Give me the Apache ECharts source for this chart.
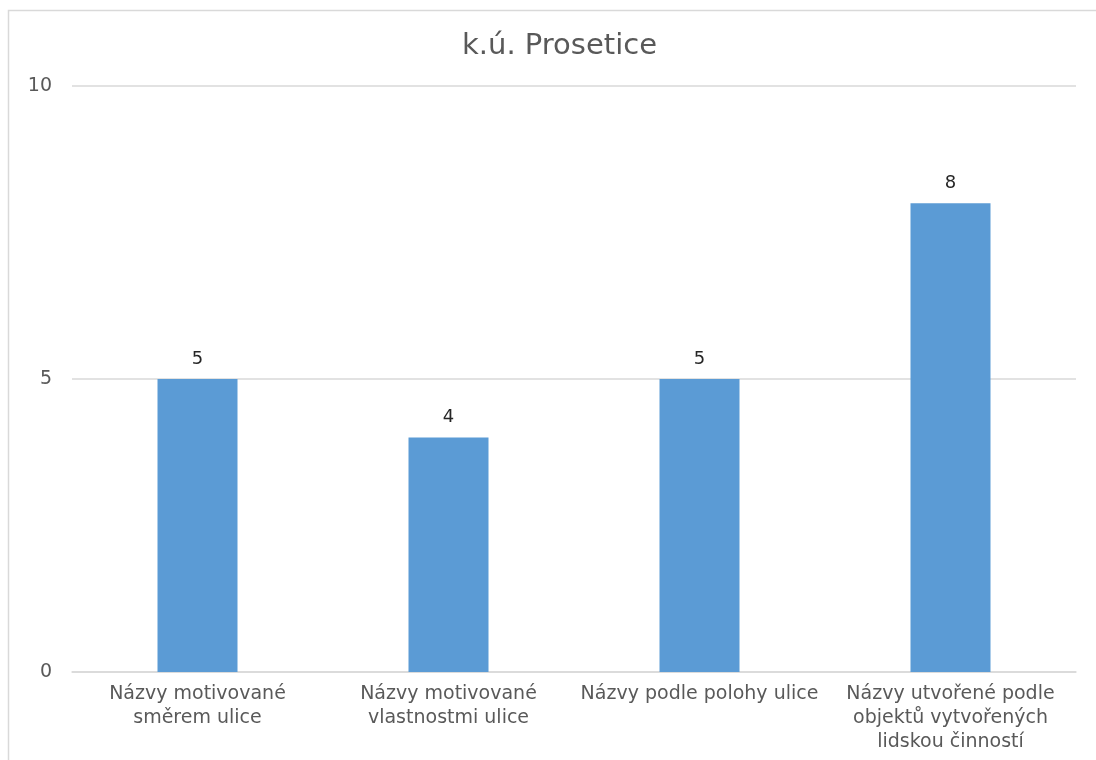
<!DOCTYPE html>
<html>
<head>
<meta charset="utf-8">
<script src="https://cdn.jsdelivr.net/npm/echarts@6/dist/echarts.min.js"></script>
<style>
  html, body { margin: 0; padding: 0; background: #fff; }
  #chart { width: 1096px; height: 760px; }
</style>
</head>
<body>
<div id="chart"></div>
<script>
// Street-name categories for the cadastral area
const categories = [
  'Názvy motivované\nsměrem ulice',
  'Názvy motivované\nvlastnostmi ulice',
  'Názvy podle polohy ulice',
  'Názvy utvořené podle\nobjektů vytvořených\nlidskou činností'
];
// Number of street names in each category
const counts = [5, 4, 5, 8];
const chartTitle = 'k.ú. Prosetice';

const font = 'DejaVu Sans';
const chart = echarts.init(document.getElementById('chart'), null, { renderer: 'canvas' });

chart.setOption({
  animation: false,
  backgroundColor: '#ffffff',
  graphic: [{
    type: 'rect',
    shape: { x: 8.5, y: 10.5, width: 1200, height: 900 },
    style: { fill: 'none', stroke: '#d9d9d9', lineWidth: 1.5 },
    silent: true
  }],
  title: {
    text: chartTitle,
    left: 457,
    top: 27,
    textStyle: { fontFamily: font, fontSize: 29, fontWeight: 'normal', color: '#595959' }
  },
  grid: { left: 72, right: 20, top: 86, bottom: 88, containLabel: false },
  xAxis: {
    type: 'category',
    data: categories,
    axisLine: { show: true, lineStyle: { color: '#d9d9d9', width: 1.5 } },
    axisTick: { show: false },
    axisLabel: {
      interval: 0,
      margin: 10,
      fontFamily: font,
      fontSize: 19,
      lineHeight: 24,
      color: '#595959',
      align: 'center'
    }
  },
  yAxis: {
    type: 'value',
    min: 0,
    max: 10,
    interval: 5,
    axisLine: { show: false },
    axisTick: { show: false },
    splitLine: { lineStyle: { color: '#d9d9d9', width: 1.5 } },
    axisLabel: {
      margin: 20,
      fontFamily: font,
      fontSize: 19,
      color: '#595959'
    }
  },
  series: [{
    type: 'bar',
    data: counts,
    barWidth: 80,
    itemStyle: { color: '#5b9bd5' },
    label: {
      show: true,
      position: 'top',
      distance: 11,
      fontFamily: font,
      fontSize: 18,
      color: '#262626'
    }
  }]
});
</script>
</body>
</html>
